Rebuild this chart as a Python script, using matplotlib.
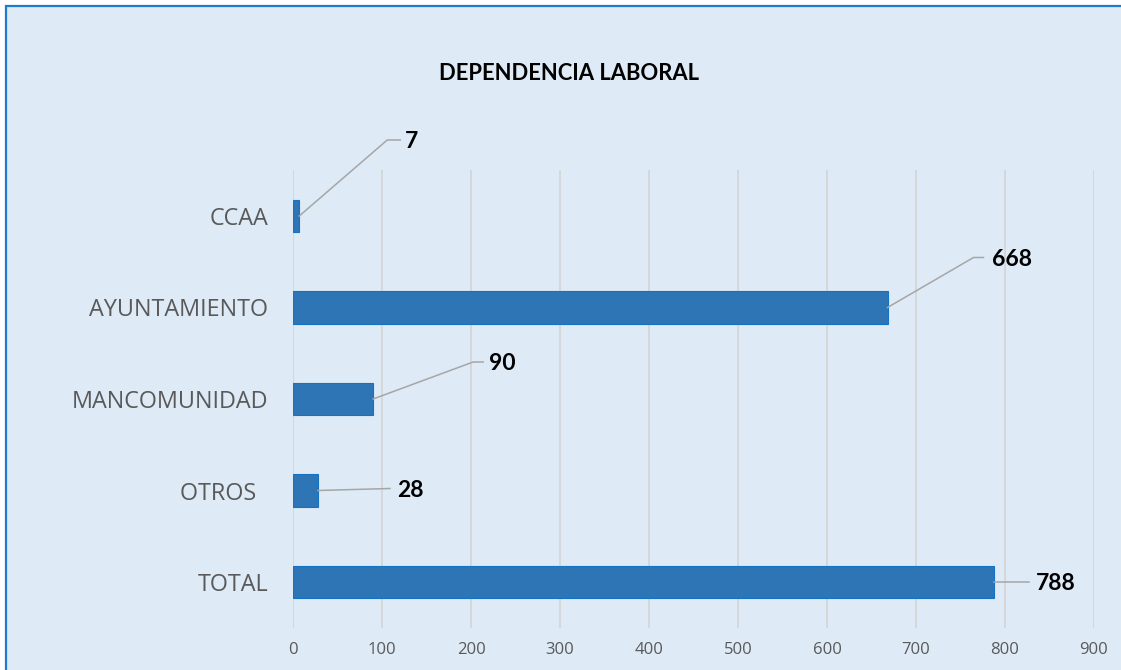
import matplotlib.pyplot as plt
from matplotlib.patches import Rectangle
import numpy as np

plt.rcParams['font.family'] = ['Lato', 'DejaVu Sans']

categories = ['CCAA', 'AYUNTAMIENTO', 'MANCOMUNIDAD', 'OTROS  ', 'TOTAL']
values = [7, 668, 90, 28, 788]
x_ticks = [0, 100, 200, 300, 400, 500, 600, 700, 800, 900]
title = 'DEPENDENCIA LABORAL'

# leader line layout per label, in pixels: (elbow dx, elbow dy, horizontal run, text gap)
leaders = [(88, 76, 13, 5), (86, 50, 10, 8), (100, 37, 10, 6), (72, 2, 0, 7), (35, 0, 0, 7)]

W, H = 1121, 670
fig = plt.figure(figsize=(W / 100, H / 100), dpi=100, facecolor='white')
fig.patches.append(Rectangle((5.5 / W, -0.1), 1.2, 1.1 - 6.5 / H, transform=fig.transFigure,
                             facecolor='#DEEAF6', edgecolor='#1F7ACB', linewidth=1.6, zorder=-5))

ax = fig.add_axes([293 / W, 42.25 / H, 801 / W, 457.5 / H])
ax.set_facecolor('none')
ax.set_zorder(2)

y = np.arange(len(categories))
ax.barh(y, values, height=0.36, color='#2E75B6', edgecolor='#1472C4', linewidth=0.8, zorder=3)
ax.set_xlim(0, 900)
ax.set_ylim(len(categories) - 0.5, -0.5)
ax.set_xticks(x_ticks)
ax.set_xticklabels([str(t) for t in x_ticks], family='Open Sans')
ax.set_yticks(y)
ax.set_yticklabels(categories, family='Open Sans')
ax.tick_params(axis='y', length=0, pad=18, labelsize=16.8, labelcolor='#595959')
ax.tick_params(axis='x', length=0, pad=10, labelsize=12, labelcolor='#595959')
ax.grid(axis='x', color='#D4D4D4', linewidth=1.2, zorder=0)
for s in ax.spines.values():
    s.set_visible(False)

fig.text(569 / W, 1 - 73 / H, title, ha='center', va='center', fontsize=15.8,
         fontweight='bold', color='black', zorder=5)

inv = ax.transData.inverted()
for i, (v, (dx, dy, hr, gap)) in enumerate(zip(values, leaders)):
    p0 = ax.transData.transform((v, i))
    p1 = p0 + np.array([dx, dy])
    p2 = p1 + np.array([hr, 0])
    pts = inv.transform(np.array([p0, p1, p2]))
    ax.plot(pts[:, 0], pts[:, 1], color='#A6A6A6', linewidth=1.1, zorder=4, clip_on=False)
    tx, ty = inv.transform(p2 + np.array([gap, -2]))
    ax.text(tx, ty, str(v), ha='left', va='center', fontsize=16.5, fontweight='bold',
            color='black', zorder=5)

fig.savefig('out.png', dpi=100, facecolor='white')
